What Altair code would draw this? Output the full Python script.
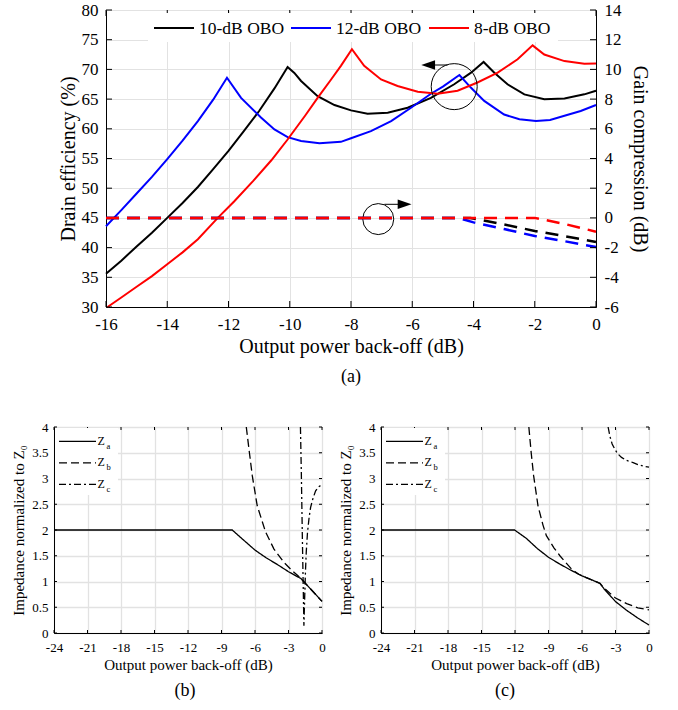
import altair as alt
import pandas as pd

FONT = "Liberation Serif"
GRID = "#e2e2e2"

# ---------------- (a) data ----------------
series_names = ["10-dB OBO", "12-dB OBO", "8-dB OBO"]
series_colors = ["#000000", "#0000ff", "#ff0000"]

obo10_x = [-16, -15.5, -15, -14.5, -14, -13.5, -13, -12.5, -12, -11.5, -11, -10.5,
           -10.07, -9.85, -9.63, -9.09, -8.54, -8.0, -7.46, -6.8, -6.15, -5.39, -4.63, -4.08, -3.67,
           -3.32, -2.89, -2.34, -1.69, -1.03, -0.38, 0]
obo10_eff = [35.6, 37.8, 40.2, 42.5, 45.0, 47.5, 50.2, 53.2, 56.3, 59.6, 63.0, 66.8,
             70.4, 69.4, 68.05, 65.5, 64.0, 63.1, 62.55, 62.7, 63.55, 65.2, 67.5, 69.45, 71.25,
             69.45, 67.5, 65.8, 64.97, 65.1, 65.8, 66.4]

obo12_x = [-16, -15.5, -15, -14.5, -14, -13.5, -13, -12.5, -12.05,
           -11.59, -10.94, -10.5, -10.07, -9.63, -9.03, -8.33, -8.0,
           -7.35, -6.69, -6.04, -5.39, -5.0, -4.46,
           -4.08, -3.65, -3.0, -2.5, -1.96, -1.5, -1.03, -0.5, 0]
obo12_eff = [43.6, 46.3, 49.1, 51.9, 54.9, 58.0, 61.3, 64.9, 68.6,
             65.2, 61.9, 59.9, 58.6, 57.95, 57.55, 57.8, 58.4,
             59.6, 61.3, 63.55, 65.9, 67.1, 69.06,
             66.9, 64.7, 62.4, 61.6, 61.3, 61.5, 62.2, 63.0, 64.0]

obo8_x = [-15.95, -15.5, -15, -14.5, -14, -13.5, -13,
          -12.35, -11.81, -11.2, -10.6, -10.07, -9.5, -9.09, -8.65, -8.33, -7.97,
          -7.57, -7.02, -6.48, -5.82, -5.17, -4.52, -3.87, -3.21, -2.56, -2.07,
          -1.69, -1.03, -0.38, 0]
obo8_eff = [30.0, 31.6, 33.4, 35.2, 37.2, 39.2, 41.4,
            45.0, 47.8, 51.2, 54.7, 58.2, 62.2, 65.2, 68.3, 70.6, 73.4,
            70.6, 68.3, 67.2, 66.25, 65.9, 66.4, 67.8, 69.45, 71.7, 74.05,
            72.5, 71.4, 70.95, 71.0]

gain10_x = [-16, -4.1, -3, -2, -1, 0]
gain10 = [0, 0, -0.44, -0.88, -1.24, -1.62]
gain12_x = [-16, -4.5, -4, -3, -2, -1, 0]
gain12 = [0, 0, -0.3, -0.75, -1.22, -1.58, -1.96]
gain8_x = [-16, -2, -1, 0]
gain8 = [0, 0, -0.42, -0.93]

x_ticks_a = [-16, -14, -12, -10, -8, -6, -4, -2, 0]
eff_ticks = [30, 35, 40, 45, 50, 55, 60, 65, 70, 75, 80]
gain_ticks = [-6, -4, -2, 0, 2, 4, 6, 8, 10, 12, 14]

# annotation marks (circles and arrows) in data units
circle_x = [-4.63, -7.11]
circle_eff = [67.1, 44.8]
circle_size = [2116, 961]
arrow_from = [-4.85, -6.91]
arrow_to = [-5.48, -6.25]
arrow_eff = [70.74, 47.29]
arrow_dir = ["left", "right"]

# ---------------- (b), (c) data ----------------
curve_names = ["Za", "Zb", "Zc"]

zb_a_x = [-24, -8.04, -7, -6, -5, -4, -3, -2, -1.9, -1, 0]
zb_a = [2, 2, 1.80, 1.61, 1.46, 1.33, 1.19, 1.07, 1.06, 0.85, 0.615]
zb_b_x = [-6.78, -6.5, -6.24, -5.8, -5.05, -4.3, -3.41, -2.67, -2.2, -1.9, -1, 0]
zb_b = [4.0, 3.5, 3.05, 2.47, 1.96, 1.63, 1.37, 1.21, 1.12, 1.06, 0.85, 0.615]
zb_c_x = [-1.93, -1.85, -1.77, -1.69, -1.62, -1.55, -1.48, -1.41, -1.3, -1.15, -1.02, -0.8, -0.57, -0.3, 0]
zb_c = [4.0, 3.1, 2.0, 1.0, 0.14, 0.7, 1.2, 1.57, 1.95, 2.25, 2.44, 2.62, 2.76, 2.84, 2.88]

zc_a_x = [-24, -12.04, -11, -10, -9, -8, -7, -6, -5, -4.4, -4, -3.5, -3, -2, -1, 0]
zc_a = [2, 2, 1.84, 1.64, 1.47, 1.34, 1.22, 1.11, 1.02, 0.965, 0.85, 0.73, 0.61, 0.44, 0.29, 0.155]
zc_b_x = [-10.76, -10.55, -10.33, -9.94, -9.5, -9.19, -8.5, -7.98, -6.93, -6.3, -6, -5, -4.4,
          -4, -3.5, -3, -2, -1, 0]
zc_b = [4.0, 3.5, 3.05, 2.47, 2.1, 1.89, 1.65, 1.50, 1.24, 1.14, 1.11, 1.02, 0.965,
        0.87, 0.77, 0.68, 0.57, 0.49, 0.45]
zc_c_x = [-3.66, -3.5, -3.3, -3.06, -2.8, -2.46, -2.0, -1.42, -1.0, -0.5, 0]
zc_c = [4.0, 3.82, 3.67, 3.57, 3.48, 3.41, 3.35, 3.31, 3.27, 3.24, 3.22]

x_ticks_b = [-24, -21, -18, -15, -12, -9, -6, -3, 0]
z_ticks = [0, 0.5, 1, 1.5, 2, 2.5, 3, 3.5, 4]


def long(names, xs_list, ys_list, yname):
    rows = []
    for n, xs, ys in zip(names, xs_list, ys_list):
        for xv, yv in zip(xs, ys):
            rows.append({"series": n, "x": xv, yname: yv})
    return pd.DataFrame(rows)


LBL = "datum.value + ''"
ONE = pd.DataFrame({"t": [0]})
FONTS = dict(labelFont=FONT, titleFont=FONT, labelColor="black", titleColor="black",
             titleFontWeight="normal", domainColor="black")

# ================= (a) =================
W_A, H_A = 490, 297
X_A = alt.Scale(domain=[-16, 0], nice=False, zero=False)
EFF = alt.Scale(domain=[30, 80], nice=False, zero=False)
GAIN = alt.Scale(domain=[-6, 14], nice=False, zero=False)
COLOR = alt.Scale(domain=series_names, range=series_colors)

eff_df = long(series_names, [obo10_x, obo12_x, obo8_x], [obo10_eff, obo12_eff, obo8_eff], "eff")
gain_df = long(series_names, [gain10_x, gain12_x, gain8_x], [gain10, gain12, gain8], "gain")

AX_XA = alt.Axis(values=x_ticks_a, labelExpr=LBL, title="Output power back-off (dB)",
                 labelFontSize=17, titleFontSize=20, labelPadding=9, titlePadding=4,
                 tickSize=0, grid=True, gridColor=GRID, labelFlush=False, **FONTS)
AX_EFF = alt.Axis(values=eff_ticks, labelExpr=LBL, title="Drain efficiency (%)",
                  labelFontSize=17, titleFontSize=20, labelPadding=8, titlePadding=3,
                  tickSize=0, grid=True, gridColor=GRID, **FONTS)
AX_GAIN = alt.Axis(orient="right", values=gain_ticks, labelExpr=LBL,
                   title="Gain compression (dB)", labelFontSize=17, titleFontSize=20,
                   labelPadding=8, titlePadding=8, tickSize=0, grid=False, **FONTS)

eff_lines = alt.Chart(eff_df).mark_line(strokeWidth=2).encode(
    x=alt.X("x:Q", scale=X_A, axis=AX_XA),
    y=alt.Y("eff:Q", scale=EFF, axis=AX_EFF),
    color=alt.Color("series:N", scale=COLOR, legend=None),
)

circ_df = pd.DataFrame({"x": circle_x, "eff": circle_eff, "s": circle_size})
circles = alt.Chart(circ_df).mark_point(shape="circle", filled=False, color="black",
                                        strokeWidth=1, opacity=1).encode(
    x=alt.X("x:Q", scale=X_A, axis=AX_XA),
    y=alt.Y("eff:Q", scale=EFF, axis=AX_EFF),
    size=alt.Size("s:Q", scale=None, legend=None),
)

arr_df = pd.DataFrame({"x1": arrow_from, "x2": arrow_to, "eff": arrow_eff, "dir": arrow_dir})
shafts = alt.Chart(arr_df).mark_rule(color="black", strokeWidth=1).encode(
    x=alt.X("x1:Q", scale=X_A, axis=AX_XA),
    x2="x2:Q",
    y=alt.Y("eff:Q", scale=EFF, axis=AX_EFF),
)
heads = alt.Chart(arr_df).mark_point(filled=True, color="black", opacity=1, size=190).encode(
    x=alt.X("x2:Q", scale=X_A, axis=AX_XA),
    y=alt.Y("eff:Q", scale=EFF, axis=AX_EFF),
    shape=alt.Shape("dir:N", scale=alt.Scale(domain=["left", "right"],
                                             range=["M-1,0L1,-0.68L1,0.68Z", "M1,0L-1,-0.68L-1,0.68Z"]),
                    legend=None),
)

xt_a = pd.DataFrame({"t": x_ticks_a})
yt_a = pd.DataFrame({"t": eff_ticks})
gt_a = pd.DataFrame({"t": gain_ticks})
tick_top_a = alt.Chart(xt_a).mark_rule(color="black").encode(
    x=alt.X("t:Q", scale=X_A, axis=AX_XA), y=alt.value(0), y2=alt.value(6))
tick_bot_a = alt.Chart(xt_a).mark_rule(color="black").encode(
    x=alt.X("t:Q", scale=X_A, axis=AX_XA), y=alt.value(H_A - 6), y2=alt.value(H_A))
tick_left_a = alt.Chart(yt_a).mark_rule(color="black").encode(
    y=alt.Y("t:Q", scale=EFF, axis=AX_EFF), x=alt.value(0), x2=alt.value(6))

# invisible anchor that fixes the left extent of panel (a)
filler = alt.Chart(ONE).mark_rect(opacity=0).encode(
    x=alt.value(-49), x2=alt.value(-48), y=alt.value(150), y2=alt.value(151))

# manual legend of panel (a)
leg_a = [alt.Chart(ONE).mark_rect(fill="white").encode(
    x=alt.value(42), x2=alt.value(452), y=alt.value(3), y2=alt.value(32))]
leg_line_x = [48, 185, 323]
for lx, name, col in zip(leg_line_x, series_names, series_colors):
    leg_a.append(alt.Chart(ONE).mark_rule(color=col, strokeWidth=2).encode(
        x=alt.value(lx), x2=alt.value(lx + 40), y=alt.value(18)))
    leg_a.append(alt.Chart(ONE).mark_text(align="left", baseline="alphabetic", fontSize=17.5,
                                          font=FONT, color="black").encode(
        x=alt.value(lx + 45), y=alt.value(24), text=alt.value(name)))

gain_lines = alt.Chart(gain_df).mark_line(strokeWidth=2.5, strokeDash=[13, 8]).encode(
    x=alt.X("x:Q", scale=X_A, axis=AX_XA),
    y=alt.Y("gain:Q", scale=GAIN, axis=AX_GAIN),
    color=alt.Color("series:N", scale=COLOR, legend=None),
)
tick_right_a = alt.Chart(gt_a).mark_rule(color="black").encode(
    y=alt.Y("t:Q", scale=GAIN, axis=AX_GAIN), x=alt.value(W_A - 6), x2=alt.value(W_A))

left_group = alt.layer(eff_lines, tick_top_a, tick_bot_a, tick_left_a, circles, shafts, heads,
                       filler, *leg_a)
right_group = alt.layer(gain_lines, tick_right_a)

panel_a = alt.layer(left_group, right_group).resolve_scale(y="independent").properties(
    width=W_A, height=H_A,
    title=alt.TitleParams("(a)", orient="bottom", anchor="middle", frame="group",
                          fontSize=18, offset=12, font=FONT, fontWeight="normal", color="black"),
)

# narrow invisible spacer that shifts panel (a) to the right of panel (b)
spacer = alt.Chart(ONE).mark_rect(opacity=0).encode(
    x=alt.value(0), x2=alt.value(1), y=alt.value(0), y2=alt.value(1)
).properties(width=1, height=H_A, view=alt.ViewBackground(stroke="transparent"))

# ================= (b), (c) =================
W_B, H_B = 268, 206
X_B = alt.Scale(domain=[-24, 0], nice=False, zero=False)
Z_B = alt.Scale(domain=[0, 4], nice=False, zero=False)
dash_styles = [[1, 0], [8, 4], [7, 3, 2, 3]]

AX_XB = alt.Axis(values=x_ticks_b, labelExpr=LBL, title="Output power back-off (dB)",
                 labelFontSize=13, titleFontSize=15, labelPadding=8, titlePadding=3,
                 tickSize=0, grid=True, gridColor=GRID, gridWidth=1.3,
                 labelFlush=False, **FONTS)
AX_ZB = alt.Axis(values=z_ticks, labelExpr=LBL, title="Impedance normalized to Z\u2080",
                 labelFontSize=13, titleFontSize=15, labelPadding=6, titlePadding=5,
                 tickSize=0, grid=True, gridColor=GRID, gridWidth=1.3, **FONTS)

legend_rows = [14.3, 35.8, 57.3]
legend_subs = ["a", "b", "c"]


def panel(xa, ya, xb, yb, xc, yc, caption, cap_dx):
    df = long(curve_names, [xa, xb, xc], [ya, yb, yc], "z")
    lines = alt.Chart(df).mark_line(color="black", strokeWidth=1.3).encode(
        x=alt.X("x:Q", scale=X_B, axis=AX_XB),
        y=alt.Y("z:Q", scale=Z_B, axis=AX_ZB),
        strokeDash=alt.StrokeDash("series:N", scale=alt.Scale(domain=curve_names, range=dash_styles),
                                  legend=None),
    )
    xt = pd.DataFrame({"t": x_ticks_b})
    yt = pd.DataFrame({"t": z_ticks})
    ticks = [
        alt.Chart(xt).mark_rule(color="black").encode(
            x=alt.X("t:Q", scale=X_B, axis=AX_XB), y=alt.value(0), y2=alt.value(3)),
        alt.Chart(xt).mark_rule(color="black").encode(
            x=alt.X("t:Q", scale=X_B, axis=AX_XB), y=alt.value(H_B - 3), y2=alt.value(H_B)),
        alt.Chart(yt).mark_rule(color="black").encode(
            y=alt.Y("t:Q", scale=Z_B, axis=AX_ZB), x=alt.value(0), x2=alt.value(3)),
        alt.Chart(yt).mark_rule(color="black").encode(
            y=alt.Y("t:Q", scale=Z_B, axis=AX_ZB), x=alt.value(W_B - 3), x2=alt.value(W_B)),
    ]
    leg = [alt.Chart(ONE).mark_rect(fill="white").encode(
        x=alt.value(1), x2=alt.value(64), y=alt.value(1), y2=alt.value(68))]
    for ly, dash, sub in zip(legend_rows, dash_styles, legend_subs):
        leg.append(alt.Chart(ONE).mark_rule(color="black", strokeWidth=1.3, strokeDash=dash).encode(
            x=alt.value(5), x2=alt.value(42), y=alt.value(ly)))
        leg.append(alt.Chart(ONE).mark_text(align="left", baseline="alphabetic", fontSize=12,
                                            font=FONT, color="black").encode(
            x=alt.value(43.5), y=alt.value(ly + 3.2), text=alt.value("Z")))
        leg.append(alt.Chart(ONE).mark_text(align="left", baseline="alphabetic", fontSize=8.5,
                                            font=FONT, color="black").encode(
            x=alt.value(52.5), y=alt.value(ly + 7.5), text=alt.value(sub)))
    return alt.layer(lines, *ticks, *leg).properties(
        width=W_B, height=H_B,
        title=alt.TitleParams(caption, orient="bottom", anchor="middle", frame="group",
                              fontSize=18, offset=10, dx=cap_dx, font=FONT,
                              fontWeight="normal", color="black"),
    )


panel_b = panel(zb_a_x, zb_a, zb_b_x, zb_b, zb_c_x, zb_c, "(b)", -3)
panel_c = panel(zc_a_x, zc_a, zc_b_x, zc_b, zc_c_x, zc_c, "(c)", -10)

chart = alt.vconcat(
    alt.hconcat(spacer, panel_a, spacing=0),
    alt.hconcat(panel_b, panel_c, spacing=12),
    spacing=33,
).properties(
    padding={"left": 11, "top": 0, "right": 0, "bottom": 0},
    background="white",
).configure(font=FONT).configure_view(stroke="black", strokeWidth=1).configure_axis(
    labelFont=FONT, titleFont=FONT, labelColor="black", titleColor="black",
    titleFontWeight="normal", domainColor="black", domainWidth=1,
)

chart.save("out.html", embed_options={"renderer": "svg", "actions": False})
